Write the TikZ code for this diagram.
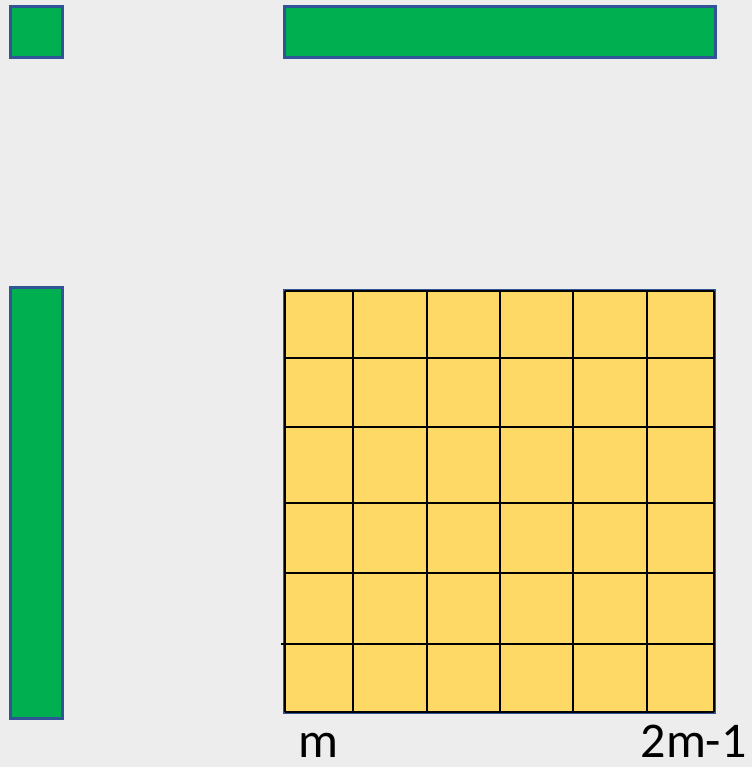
\documentclass[tikz,border=0pt]{standalone}
\usepackage{fontspec}
\setmainfont{Carlito}
\usetikzlibrary{positioning}
\definecolor{PaneGray}{HTML}{EDEDED}
\definecolor{BarGreen}{HTML}{00B050}
\definecolor{BarEdge}{HTML}{2F5597}
\definecolor{CellYellow}{HTML}{FED966}
\begin{document}
\begin{tikzpicture}[
    x=0.5pt, y=-0.5pt,
    bar/.style={
        fill=BarGreen,
        draw=BarEdge,
        line width=1.5pt
    },
    cellblock/.style={fill=CellYellow, draw=BarEdge, line width=1pt},
    gridline/.style={draw=black, line width=1pt},
    axis label/.style={font=\fontsize{25}{30}\selectfont, text=black, inner sep=0pt}
]
    \fill[PaneGray] (0,0) rectangle (752,767);
    \useasboundingbox (0,0) rectangle (752,767);

    % green vectors
    \draw[bar] (10,6) rectangle (62,57);
    \draw[bar] (284,6) rectangle (715,57);
    \draw[bar] (10,287) rectangle (62,718);

    % yellow block
    \draw[cellblock] (284,290) rectangle (715,713);
    \foreach \x in {285,353,427,500,573,647,714}
        \draw[gridline] (\x,291) -- (\x,712);
    \foreach \y in {291,358,427,503,573,712}
        \draw[gridline] (285,\y) -- (714,\y);
    \draw[gridline] (281,644) -- (714,644);

    \node[axis label, anchor=base] (lblm) at (318,757) {m};
    \node[axis label, anchor=base east] (lbltop) at (747,757) {2m-1};
\end{tikzpicture}
\end{document}
